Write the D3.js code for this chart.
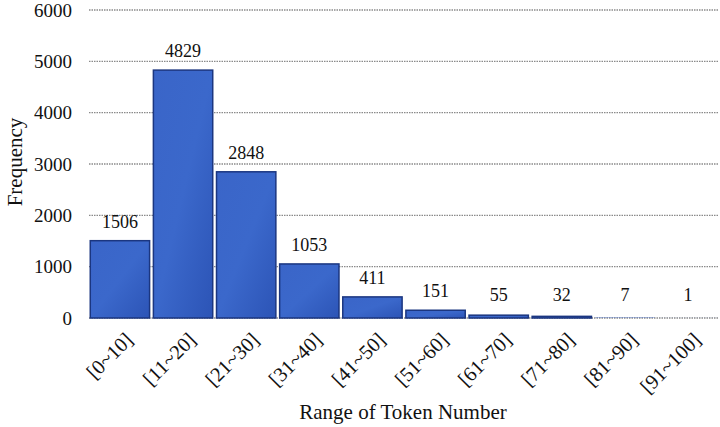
<!DOCTYPE html>
<html>
<head>
<meta charset="utf-8">
<script src="https://cdn.jsdelivr.net/npm/d3@7"></script>
<style>
  body { margin: 0; background: #fff; }
  svg { display: block; font-family: "Liberation Serif", "Times New Roman", serif; }
</style>
</head>
<body>
<svg id="chart" width="720" height="427"></svg>
<script>
  // token number ranges and frequencies
  var categories = ['[0~10]', '[11~20]', '[21~30]', '[31~40]', '[41~50]',
    '[51~60]', '[61~70]', '[71~80]', '[81~90]', '[91~100]'];
  var frequency = [1506, 4829, 2848, 1053, 411, 151, 55, 32, 7, 1];
  var yTicks = [0, 1000, 2000, 3000, 4000, 5000, 6000];

  var svg = d3.select('#chart');
  var margin = { top: 10, right: 1, bottom: 109, left: 89 };
  var width = 720 - margin.left - margin.right;
  var height = 427 - margin.top - margin.bottom;

  var defs = svg.append('defs');
  var grad = defs.append('linearGradient').attr('id', 'barGrad')
    .attr('x1', 0).attr('y1', 0).attr('x2', 1).attr('y2', 1);
  grad.append('stop').attr('offset', '0%').attr('stop-color', '#3a65c8');
  grad.append('stop').attr('offset', '50%').attr('stop-color', '#3b68cb');
  grad.append('stop').attr('offset', '100%').attr('stop-color', '#2c54b6');

  var g = svg.append('g').attr('transform', 'translate(' + margin.left + ',' + margin.top + ')');

  var x = d3.scaleBand().domain(categories).range([0, width]).paddingInner(0.06).paddingOuter(0.02);
  var y = d3.scaleLinear().domain([0, 6000]).range([height, 0]);

  // 网格线
  g.append('g')
    .selectAll('line')
    .data(yTicks)
    .join('line')
    .attr('x1', 0).attr('x2', width)
    .attr('y1', function (d) { return y(d); })
    .attr('y2', function (d) { return y(d); })
    .attr('stroke', '#8a8a8a')
    .attr('stroke-width', 1.3)
    .attr('stroke-dasharray', '1.5,1');

  // y axis labels
  g.append('g')
    .selectAll('text')
    .data(yTicks)
    .join('text')
    .attr('x', -17)
    .attr('y', function (d) { return y(d); })
    .attr('dy', '0.35em')
    .attr('text-anchor', 'end')
    .attr('font-size', 19)
    .attr('fill', '#111')
    .text(function (d) { return d; });

  // bars (tiny ones are thinner than a pixel, so no outline)
  g.append('g')
    .selectAll('rect')
    .data(frequency)
    .join('rect')
    .attr('x', function (d, i) { return x(categories[i]); })
    .attr('y', function (d) { return y(d); })
    .attr('width', x.bandwidth())
    .attr('height', function (d) { return height - y(d); })
    .attr('fill', 'url(#barGrad)')
    .attr('stroke', function (d) { return height - y(d) < 1 ? 'none' : '#1b3680'; })
    .attr('stroke-width', 1.5);

  // value labels
  g.append('g')
    .selectAll('text')
    .data(frequency)
    .join('text')
    .attr('x', function (d, i) { return x(categories[i]) + x.bandwidth() / 2; })
    .attr('y', function (d) { return Math.min(y(d), height - 4) - 13; })
    .attr('text-anchor', 'middle')
    .attr('font-size', 18)
    .attr('fill', '#111')
    .text(function (d) { return d; });

  // x category labels, rotated
  g.append('g')
    .selectAll('text')
    .data(categories)
    .join('text')
    .attr('transform', function (d) {
      return 'translate(' + (x(d) + x.bandwidth() / 2 + 9) + ',' + (height + 18) + ') rotate(-45)';
    })
    .attr('text-anchor', 'end')
    .attr('dy', '0.35em')
    .attr('font-size', 20.5)
    .attr('fill', '#111')
    .text(function (d) { return d; });

  // axis titles
  svg.append('text')
    .attr('x', margin.left + width / 2 - 1)
    .attr('y', 419)
    .attr('text-anchor', 'middle')
    .attr('font-size', 21)
    .attr('fill', '#111')
    .text('Range of Token Number');

  svg.append('text')
    .attr('transform', 'translate(22,' + (margin.top + height / 2 - 2) + ') rotate(-90)')
    .attr('text-anchor', 'middle')
    .attr('font-size', 21)
    .attr('fill', '#111')
    .text('Frequency');
</script>
</body>
</html>
